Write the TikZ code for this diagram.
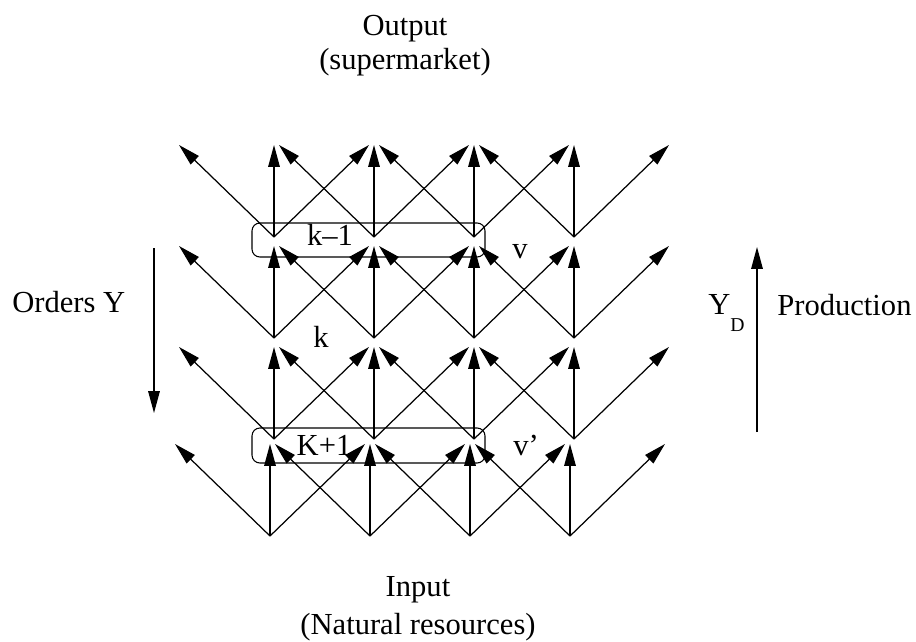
\documentclass[tikz,border=0pt]{standalone}
\usepackage{fontspec}
\setmainfont{Liberation Serif}
\usetikzlibrary{arrows.meta,calc}

\tikzset{
  flow/.style={line width=0.7pt, -{Triangle[length=12.5pt,width=6.6pt]}},
  lbl/.style={anchor=base, inner sep=0pt, font=\fontsize{17.4}{20}\selectfont},
  layer/.style={line width=0.6pt, rounded corners=4.5pt},
}

\begin{document}
\begin{tikzpicture}[x=0.02cm, y=-0.02cm]
  \useasboundingbox (0,0) rectangle (916,642);

  %%%%% lattice %%%%%
  \foreach \r/\xx/\yy in {0/270/536, 1/274/439, 2/274/338, 3/274/237} {
    \foreach \c in {0,...,3} {
      \coordinate (s-\c-\r) at ({\xx+100*\c}, \yy);
      \coordinate (l-\c-\r) at ($(s-\c-\r)+(-95,-92)$);
      \coordinate (u-\c-\r) at ($(s-\c-\r)+(0,-92)$);
      \coordinate (r-\c-\r) at ($(s-\c-\r)+(95,-92)$);
      \draw[flow] (s-\c-\r) -- (l-\c-\r);
      \draw[flow] (s-\c-\r) -- (u-\c-\r);
      \draw[flow] (s-\c-\r) -- (r-\c-\r);
    }
  }

  %%%%% layers %%%%%
  \draw[layer] ($(s-0-3)+(-22,-14)$) rectangle ($(s-2-3)+(11,20)$);
  \draw[layer] ($(s-0-1)+(-22,-11)$) rectangle ($(s-2-1)+(11,24)$);

  \node[lbl] (km) at (330,245) {k--1};
  \node[lbl] (v) at (520,258) {v};
  \node[lbl] (k) at (321,347) {k};
  \node[lbl] (kp) at (324,455) {K+1};
  \node[lbl, anchor=base west] (vp) at (513,455) {v’};

  %%%%% sides %%%%%
  \node[lbl] (out) at (405,36) {Output};
  \node[lbl] (sup) at (405,70) {(supermarket)};
  \node[lbl] (in) at (418,596) {Input};
  \node[lbl] (nat) at (418,634) {(Natural resources)};

  \node[lbl, anchor=base west] (ord) at (12,312) {Orders Y};
  \coordinate (ord-a) at (154,248);
  \coordinate (ord-b) at (154,413);
  \draw[flow] (ord-a) -- (ord-b);

  \node[lbl, anchor=base west] (yd) at (708,314) {Y\raisebox{-0.56em}{\fontsize{11.2}{12}\selectfont D}};
  \coordinate (prod-a) at (757,432);
  \coordinate (prod-b) at (757,247);
  \draw[flow] (prod-a) -- (prod-b);
  \node[lbl, anchor=base west] (prod) at (777,315) {Production};
\end{tikzpicture}
\end{document}
